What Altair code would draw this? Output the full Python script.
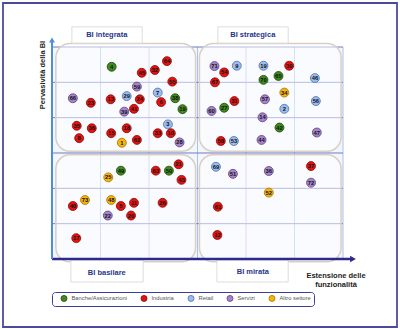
import altair as alt
import pandas as pd

# ---- data ----
ids = [4, 64, 45, 32, 55, 59, 7, 66, 23, 13, 29, 24, 6, 38, 19, 39, 41, 3, 35, 36, 15, 18, 33, 10, 8, 1, 62, 28,
       71, 9, 54, 67, 19, 30, 70, 65, 46, 34, 57, 31, 27, 60, 2, 56, 14, 42, 47, 58, 53, 44,
       21, 63, 50, 49, 25, 43, 73, 40, 48, 5, 11, 26, 22, 20, 17,
       69, 51, 36, 37, 72, 52, 61, 12]
xs = [1.23, 2.37, 1.85, 2.12, 2.48, 1.75, 2.18, 0.43, 0.80, 1.21, 1.54, 1.81, 2.25, 2.54, 2.69, 1.49, 1.69, 2.39,
      0.51, 0.82, 1.22, 1.54, 2.18, 2.45, 0.56, 1.44, 1.75, 2.63,
      3.35, 3.81, 3.55, 3.36, 4.36, 4.89, 4.36, 4.67, 5.42, 4.79, 4.39, 3.76, 3.55, 3.29, 4.79, 5.44, 4.34, 4.69,
      5.46, 3.48, 3.75, 4.32,
      2.61, 2.14, 2.41, 1.42, 1.16, 2.67, 0.68, 0.43, 1.22, 1.42, 1.69, 2.28, 1.15, 1.63, 0.50,
      3.38, 3.73, 4.47, 5.34, 5.34, 4.47, 3.42, 3.41]
ys = [5.44, 5.60, 5.27, 5.35, 5.02, 4.88, 4.71, 4.55, 4.42, 4.52, 4.61, 4.52, 4.44, 4.55, 4.24, 4.17, 4.25, 3.81,
      3.77, 3.70, 3.56, 3.70, 3.56, 3.56, 3.42, 3.29, 3.37, 3.30,
      5.46, 5.47, 5.28, 5.00, 5.47, 5.47, 5.07, 5.18, 5.12, 4.71, 4.52, 4.47, 4.28, 4.19, 4.25, 4.47, 4.01, 3.72,
      3.58, 3.34, 3.34, 3.37,
      2.68, 2.50, 2.50, 2.50, 2.31, 2.24, 1.67, 1.50, 1.67, 1.50, 1.59, 1.59, 1.23, 1.23, 0.59,
      2.61, 2.41, 2.49, 2.63, 2.16, 1.88, 1.48, 0.68]
G, R, B, P, O = "Banche/Assicurazioni", "Industria", "Retail", "Servizi", "Altro settore"
sectors = [G, R, R, R, R, P, B, P, R, R, B, R, R, G, G, P, R, B, R, R, R, R, R, R, R, O, R, P,
           P, B, R, R, B, R, G, G, B, O, P, R, G, P, B, B, P, G, P, R, B, P,
           R, R, G, G, O, R, O, R, O, R, R, R, P, R, R,
           B, P, P, R, P, O, R, R]

sector_order = [G, R, B, P, O]
sector_fill = ["#3f8a1c", "#e3130f", "#9bbcec", "#a584c8", "#f6b40e"]
sector_line = ["#1f4a0c", "#8a0a08", "#4a6fb0", "#5e3f86", "#a87400"]

quadrant_names = ["BI integrata", "BI strategica", "BI basilare", "BI mirata"]
grid_steps = [1, 2, 3, 4, 5, 6]
x_title = ["Estensione delle", "funzionalità"]
y_title = "Pervasività della BI"

# ---- scales ----
XMAX, YMAX = 6.206, 6.198
xs_ = alt.Scale(domain=[0, XMAX], nice=False, zero=False)
ys_ = alt.Scale(domain=[0, YMAX], nice=False, zero=False)


def X(f):
    return alt.X(f, type="quantitative", scale=xs_, axis=None)


def Y(f):
    return alt.Y(f, type="quantitative", scale=ys_, axis=None)


pts = pd.DataFrame({"id": ids, "x": xs, "y": ys, "settore": sectors})

# outer frame
frame = alt.Chart(pd.DataFrame({"a": [0]})).mark_rect(
    fill="white", stroke="#4b4b9e", strokeWidth=1.8
).encode(x=alt.value(-49), x2=alt.value(345), y=alt.value(-37), y2=alt.value(287))

# plot background
bg = alt.Chart(pd.DataFrame({"x0": [0], "x1": [6], "y0": [0], "y1": [6]})).mark_rect(
    fill="#f3f6fc"
).encode(x=X("x0"), x2="x1", y=Y("y0"), y2="y1")

gdf = pd.DataFrame({"v": grid_steps, "z0": [0] * 6, "z1": [6] * 6})
vgrid = alt.Chart(gdf).mark_rule(color="#a9c4ec", strokeWidth=1).encode(x=X("v"), y=Y("z0"), y2="z1")
hgrid = alt.Chart(gdf).mark_rule(color="#6f7cc4", strokeWidth=1).encode(y=Y("v"), x=X("z0"), x2="z1")

# quadrant rounded boxes
qdf = pd.DataFrame({
    "x0": [0.08, 3.04, 0.08, 3.04], "x1": [2.96, 5.96, 2.96, 5.96],
    "y0": [3.05, 3.05, -0.08, -0.08], "y1": [6.1, 6.1, 2.95, 2.95],
})
quads = alt.Chart(qdf).mark_rect(
    cornerRadius=14, fill="white", fillOpacity=0.5, stroke="#d9cfc4", strokeWidth=1.5
).encode(x=X("x0"), x2="x1", y=Y("y0"), y2="y1")

# quadrant label boxes
ldf = pd.DataFrame({
    "name": quadrant_names,
    "x0": [0.41, 3.42, 0.39, 3.40], "x1": [1.86, 4.87, 1.88, 4.87],
    "y0": [6.11, 6.11, -0.65, -0.65], "y1": [6.57, 6.57, -0.03, -0.03],
    "xc": [1.13, 4.14, 1.13, 4.14], "yc": [6.34, 6.34, -0.40, -0.37],
})
lbox = alt.Chart(ldf).mark_rect(fill="white", stroke="#dcdcdc", strokeWidth=1).encode(
    x=X("x0"), x2="x1", y=Y("y0"), y2="y1")
ltext = alt.Chart(ldf).mark_text(
    font="Liberation Sans", fontSize=7.5, fontWeight="bold", color="#27348b"
).encode(x=X("xc"), y=Y("yc"), text="name:N")

# axes with arrows
adf = pd.DataFrame({"a0": [0], "ax": [6.206], "ay": [6.198]})
xaxis = alt.Chart(adf).mark_rule(color="#2c2a8c", strokeWidth=2.5).encode(
    x=X("a0"), x2="ax", y=Y("a0"))
yaxis = alt.Chart(adf).mark_rule(color="#4d8fdc", strokeWidth=2).encode(
    x=X("a0"), y=Y("a0"), y2="ay")
xarrow = alt.Chart(adf).mark_point(shape="triangle-right", filled=True, size=45,
                                   color="#2c2a8c", opacity=1).encode(x=X("ax"), y=Y("a0"))
yarrow = alt.Chart(adf).mark_point(shape="triangle-up", filled=True, size=35,
                                   color="#4d8fdc", opacity=1).encode(x=X("a0"), y=Y("ay"))

# points
points = alt.Chart(pts).mark_circle(size=80, opacity=1, strokeWidth=0.8).encode(
    x=X("x"), y=Y("y"),
    fill=alt.Fill("settore:N", scale=alt.Scale(domain=sector_order, range=sector_fill),
                  legend=alt.Legend(
                      title=None, orient="none", legendX=0, legendY=252, direction="horizontal",
                      symbolType="circle", symbolSize=36, symbolStrokeColor="#555",
                      symbolStrokeWidth=0.8, labelFont="Liberation Sans", labelFontSize=5.8,
                      labelColor="#555", columnPadding=7, padding=2.5, strokeColor="#3b3b9b",
                      fillColor="white", cornerRadius=3, labelOffset=4, symbolOffset=6)),
    stroke=alt.Stroke("settore:N", scale=alt.Scale(domain=sector_order, range=sector_line), legend=None),
)
labels = alt.Chart(pts).mark_text(
    font="Liberation Sans", fontSize=5.8, fontWeight="bold", color="#111"
).encode(x=X("x"), y=Y("y"), text="id:N")

# axis titles
ytitle = alt.Chart(pd.DataFrame({"t": [y_title]})).mark_text(
    font="Liberation Sans", fontSize=7.5, fontWeight="bold", color="#222", angle=270
).encode(x=alt.value(-9), y=alt.value(35), text="t:N")
xtitle = alt.Chart(pd.DataFrame({"t": x_title, "dy": [236, 245]})).mark_text(
    font="Liberation Sans", fontSize=7.5, fontWeight="bold", color="#222"
).encode(x=alt.value(284), y=alt.Y("dy:Q", scale=None), text="t:N")

chart = alt.layer(
    frame, bg, vgrid, hgrid, quads, lbox, ltext, xaxis, yaxis, xarrow, yarrow,
    points, labels, ytitle, xtitle
).properties(
    width=301, height=219,
    autosize=alt.AutoSizeParams(type="none"),
    padding={"left": 52, "top": 40, "right": 47, "bottom": 70},
).configure_view(stroke=None).configure(background="white")

chart.save("out.html", embed_options={"renderer": "svg", "actions": False})
